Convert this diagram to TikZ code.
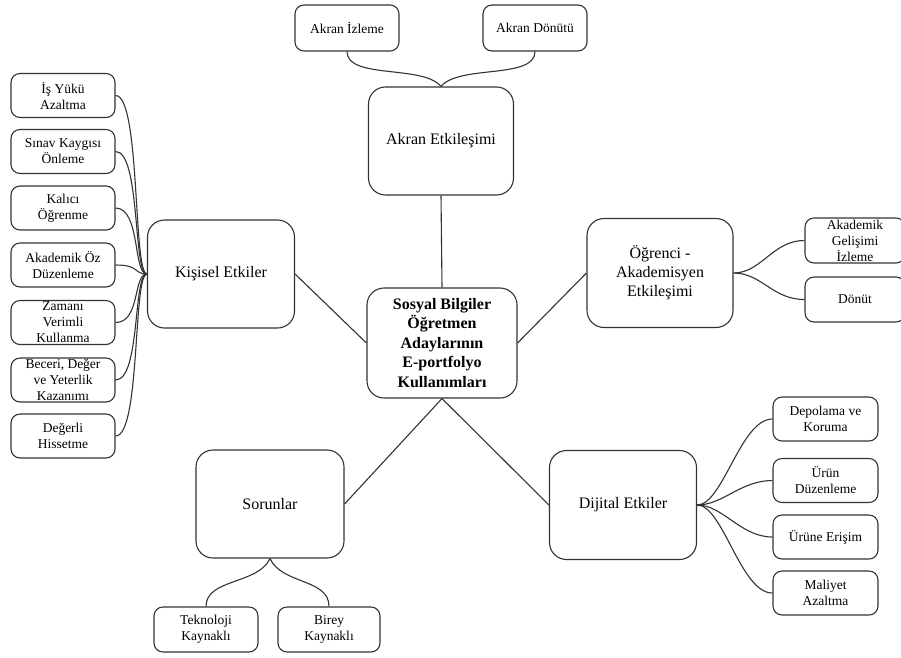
\documentclass[tikz,border=0pt]{standalone}
\usepackage{fontspec}
\setmainfont{Liberation Serif}
\begin{document}
\begin{tikzpicture}[x=1pt,y=1pt,
  line width=1.1pt, draw=black!80,
  bigbox/.style={draw=black!80, rounded corners=17pt, align=center, inner sep=2pt,
    minimum width=147pt, minimum height=108pt, font=\fontsize{16}{19}\selectfont},
  smallbox/.style={draw=black!80, rounded corners=9pt, align=center, inner xsep=2pt, inner ysep=0pt,
    minimum width=104pt, minimum height=44pt, font=\fontsize{13.5}{16}\selectfont},
  conn/.style={draw=black!80, line width=1.1pt}]
\path[use as bounding box] (0,0) rectangle (901,-657);
\clip (0,0) rectangle (901,-657);

% central
\node[bigbox, minimum width=150pt, minimum height=110pt, font=\fontsize{16}{19.5}\selectfont\bfseries] (c) at (442,-343)
  {Sosyal Bilgiler\\Öğretmen\\Adaylarının\\E-portfolyo\\Kullanımları};

% main branches
\node[bigbox, minimum width=145pt] (ak) at (441,-141) {Akran Etkileşimi};
\node[bigbox] (ki) at (221,-274) {Kişisel Etkiler};
\node[bigbox, minimum width=146pt, minimum height=109pt] (og) at (660,-273) {Öğrenci -\\Akademisyen\\Etkileşimi};
\node[bigbox, minimum height=109pt] (di) at (623,-505) {Dijital Etkiler};
\node[bigbox, minimum width=148pt] (so) at (270,-504) {Sorunlar};

% Akran leaves
\node[smallbox, minimum height=46pt] (a1) at (347,-28) {Akran İzleme};
\node[smallbox, minimum height=46pt] (a2) at (535,-28) {Akran Dönütü};

% Kisisel leaves
\node[smallbox] (k1) at (63,-95.5) {İş Yükü\\Azaltma};
\node[smallbox] (k2) at (63,-151.5) {Sınav Kaygısı\\Önleme};
\node[smallbox] (k3) at (63,-208) {Kalıcı\\Öğrenme};
\node[smallbox] (k4) at (63,-265) {Akademik Öz\\Düzenleme};
\node[smallbox] (k5) at (63,-322.5) {Zamanı\\Verimli\\Kullanma};
\node[smallbox] (k6) at (63,-380) {Beceri, Değer\\ve Yeterlik\\Kazanımı};
\node[smallbox] (k7) at (63,-436) {Değerli\\Hissetme};

% Ogrenci leaves
\node[smallbox, minimum width=100pt, minimum height=45pt] (o1) at (855,-240.5) {Akademik\\Gelişimi\\İzleme};
\node[smallbox, minimum width=100pt, minimum height=45pt] (o2) at (855,-299.5) {Dönüt};

% Dijital leaves
\node[smallbox, minimum width=105pt] (d1) at (825.5,-419) {Depolama ve\\Koruma};
\node[smallbox, minimum width=105pt] (d2) at (825.5,-480.5) {Ürün\\Düzenleme};
\node[smallbox, minimum width=105pt] (d3) at (825.5,-537) {Ürüne Erişim};
\node[smallbox, minimum width=105pt] (d4) at (825.5,-593) {Maliyet\\Azaltma};

% Sorunlar leaves
\node[smallbox, minimum height=45pt] (s1) at (206,-629.5) {Teknoloji\\Kaynaklı};
\node[smallbox, minimum width=102pt, minimum height=45pt] (s2) at (329,-629.5) {Birey\\Kaynaklı};

% central connectors
\draw[conn] (ak.south) -- (c.north);
\draw[conn] (ki.east) -- (c.west);
\draw[conn] (og.west) -- (c.east);
\draw[conn] (c.south) -- (so.east);
\draw[conn] (c.south) -- (di.west);

% Akran curves
\draw[conn] (a1.south) .. controls +(0,-28) and +(-18,22) .. (ak.north);
\draw[conn] (a2.south) .. controls +(0,-28) and +(18,22) .. (ak.north);

% Kisisel curves
\foreach \k in {k1,k2,k3,k4,k5,k6,k7}
  \draw[conn] (\k.east) .. controls +(25,0) and +(-14,0) .. (ki.west);

% Ogrenci curves
\foreach \k in {o1,o2}
  \draw[conn] (og.east) .. controls +(28,0) and +(-32,0) .. (\k.west);

% Dijital curves
\foreach \k in {d1,d2,d3,d4}
  \draw[conn] (di.east) .. controls +(26,0) and +(-32,0) .. (\k.west);

% Sorunlar curves
\draw[conn] (so.south) .. controls +(-12,-26) and +(0,28) .. (s1.north);
\draw[conn] (so.south) .. controls +(12,-26) and +(0,28) .. (s2.north);
\end{tikzpicture}
\end{document}
